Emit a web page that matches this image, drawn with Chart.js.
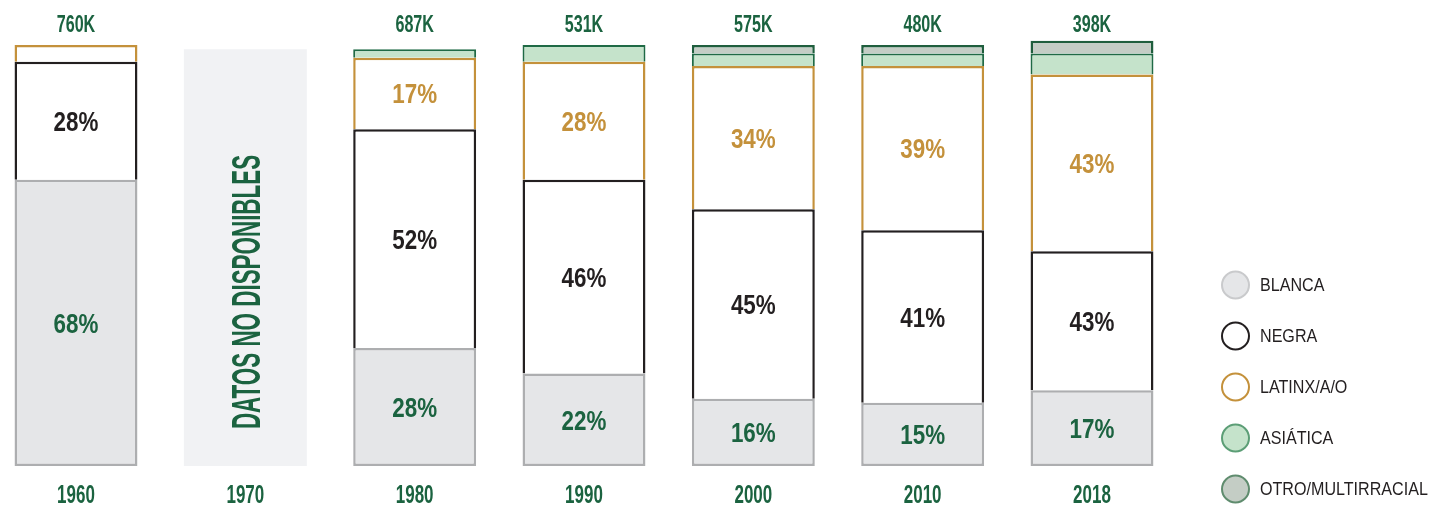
<!DOCTYPE html>
<html>
<head>
<meta charset="utf-8">
<script src="https://cdn.jsdelivr.net/npm/chart.js"></script>
<style>
  body { margin: 0; background: #fff; }
</style>
</head>
<body>
<canvas id="raceChart" width="1435" height="505"></canvas>
<script>
// data
var years = ["1960", "1970", "1980", "1990", "2000", "2010", "2018"];
var totals = [760, null, 687, 531, 575, 480, 398]; // thousands
var blanca = [68, null, 28, 22, 16, 15, 18];
var negra = [28, null, 52, 46, 45, 41, 33];
var latinx = [4, null, 17, 28, 34, 39, 42];
var asiatica = [null, null, 2, 4, 3, 3, 5];
var otro = [null, null, null, null, 2, 2, 3];
var noData = [null, 99, null, null, null, null, null];
// printed labels (2018 prints differ slightly from drawn heights)
var blancaText = ["68%", "", "28%", "22%", "16%", "15%", "17%"];
var negraText = ["28%", "", "52%", "46%", "45%", "41%", "43%"];
var latinxText = ["", "", "17%", "28%", "34%", "39%", "43%"];

var GREEN = "#1b6340";
var GOLD = "#c4913b";
var INK = "#231f20";

function condText(ctx, text, x, y, size, sx, color, weight, align, rot) {
  ctx.save();
  ctx.translate(x, y);
  if (rot) ctx.rotate(rot);
  ctx.scale(sx, 1);
  ctx.font = (weight || "bold") + " " + size + "px 'Liberation Sans', Arial, sans-serif";
  ctx.fillStyle = color;
  ctx.textAlign = align || "center";
  ctx.textBaseline = "alphabetic";
  ctx.fillText(text, 0, size * 0.358);
  ctx.restore();
}

var labelPlugin = {
  id: "labels",
  afterDatasetsDraw: function (chart) {
    var ctx = chart.ctx;
    var x = chart.scales.x;
    var area = chart.chartArea;
    var texts = [blancaText, negraText, latinxText];
    var colors = [GREEN, INK, GOLD];

    texts.forEach(function (arr, d) {
      chart.getDatasetMeta(d).data.forEach(function (bar, i) {
        if (!arr[i]) return;
        var p = bar.getProps(["x", "y", "base"], true);
        condText(ctx, arr[i], p.x, (p.y + p.base) / 2, 28, 0.8, colors[d]);
      });
    });

    // no-data column, text sits low in the box
    chart.getDatasetMeta(5).data.forEach(function (bar, i) {
      if (noData[i] == null) return;
      var p = bar.getProps(["x", "y", "base"], true);
      condText(ctx, "DATOS NO DISPONIBLES", p.x, p.base - 174, 40, 0.56, GREEN, "bold", "center", -Math.PI / 2);
    });

    years.forEach(function (yr, i) {
      var cx = x.getPixelForValue(i);
      condText(ctx, yr, cx, area.bottom + 28, 25, 0.68, GREEN);
      if (totals[i] != null) condText(ctx, totals[i] + "K", cx, area.top - 21, 23, 0.7, GREEN);
    });

    // legend
    for (var d = 0; d < 5; d++) {
      var ds = chart.data.datasets[d];
      var cy = 285 + d * 51;
      ctx.save();
      ctx.beginPath();
      ctx.arc(1235.5, cy, 13.5, 0, Math.PI * 2);
      ctx.fillStyle = ds.backgroundColor;
      ctx.fill();
      ctx.lineWidth = 2;
      ctx.strokeStyle = ds.legendBorder || ds.borderColor;
      ctx.stroke();
      ctx.restore();
      condText(ctx, ds.label, 1260, cy, 17.5, 0.92, INK, "normal", "left");
    }
  }
};

var ctx = document.getElementById("raceChart").getContext("2d");

var raceChart = new Chart(ctx, {
  type: "bar",
  data: {
    labels: years,
    datasets: [
      {
        label: "BLANCA",
        data: blanca,
        backgroundColor: "#e5e6e8",
        borderColor: "#adaeb0",
        legendBorder: "#c9cacc",
        borderWidth: 2.5,
        borderSkipped: false,
      },
      {
        label: "NEGRA",
        data: negra,
        backgroundColor: "#ffffff",
        borderColor: INK,
        borderWidth: 2.5,
      },
      {
        label: "LATINX/A/O",
        data: latinx,
        backgroundColor: "#ffffff",
        borderColor: GOLD,
        borderWidth: 2.5,
      },
      {
        label: "ASIÁTICA",
        data: asiatica,
        backgroundColor: "#c5e3cb",
        borderColor: "#1f6a45",
        legendBorder: "#5c9e76",
        borderWidth: 2,
      },
      {
        label: "OTRO/MULTIRRACIAL",
        data: otro,
        backgroundColor: "#c4cdc5",
        borderColor: "#1f5e3d",
        legendBorder: "#5f8c6e",
        borderWidth: 2.5,
      },
      {
        label: "NO DATA",
        data: noData,
        backgroundColor: "#f1f2f4",
        borderWidth: 0,
      },
    ],
  },
  options: {
    responsive: false,
    animation: false,
    datasets: {
      bar: { categoryPercentage: 1, barPercentage: 0.726, clip: false },
    },
    layout: { padding: { left: 76, right: 343, top: 45, bottom: 39 } },
    scales: {
      x: { stacked: true, offset: false, display: false },
      y: { stacked: true, min: 0, max: 100, display: false },
    },
    plugins: {
      legend: { display: false },
      tooltip: { enabled: false },
    },
  },
  plugins: [labelPlugin],
});
</script>
</body>
</html>
